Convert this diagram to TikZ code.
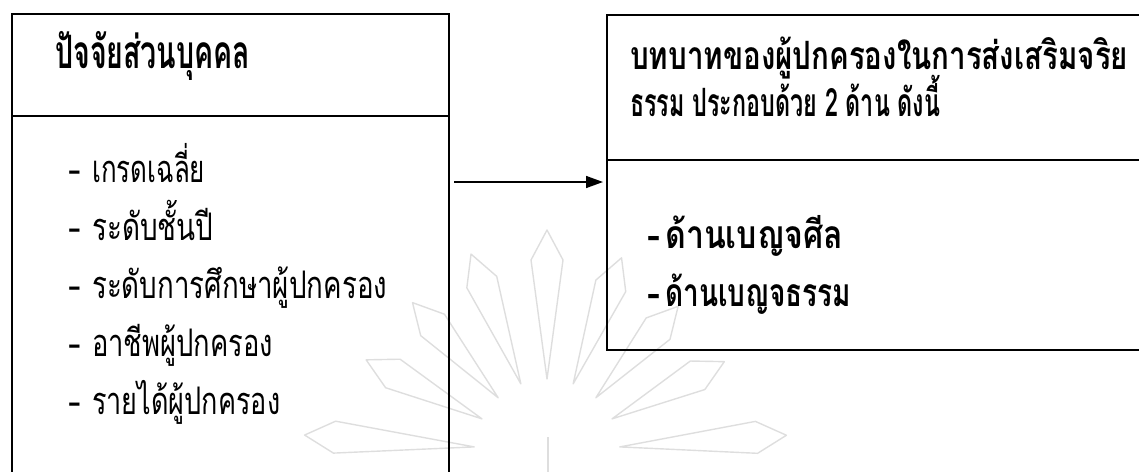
\documentclass[tikz,border=0pt]{standalone}
\usepackage{fontspec}
\usepackage{graphicx}
\usetikzlibrary{arrows.meta}
\newfontfamily\thai[Script=Thai]{Loma}
\definecolor{wmgray}{RGB}{222,222,222}
\newcommand{\fitw}[2]{\resizebox{#1}{\height}{#2}}
\begin{document}
\begin{tikzpicture}[x=1pt,y=-1pt,
  frame/.style={draw=black, line width=2.2pt, inner sep=0pt, outer sep=0pt},
  rule/.style={draw=black, line width=2pt},
  arr/.style={draw=black, line width=1.5pt, -{Triangle[length=17pt,width=12pt]}},
  wmline/.style={draw=wmgray, line width=1.4pt, line join=round},
  lhdr/.style={anchor=base west, inner sep=0pt, font=\thai\bfseries\fontsize{46}{50}\selectfont},
  litem/.style={anchor=base west, inner sep=0pt, font=\thai\fontsize{38}{42}\selectfont},
  rhdr/.style={anchor=base west, inner sep=0pt, font=\thai\bfseries\fontsize{39}{43}\selectfont},
  ritem/.style={anchor=base west, inner sep=0pt, font=\thai\bfseries\fontsize{39}{43}\selectfont}]
\useasboundingbox (0,0) rectangle (1139,471);
% watermark emblem
\begin{scope}[shift={(547,452)}]
  \foreach \a/\R in {90/222, 69/208, 48/196, 27/199, 4/240, 111/212, 132/201, 153/203, 176/243}
    \draw[wmline, rotate=\a] (73,0) -- (\R-30,16) -- (\R,0) -- (\R-30,-16) -- cycle;
\end{scope}
\coordinate (wmA) at (548,437);
\coordinate (wmB) at (548,475);
\draw[wmline] (wmA) -- (wmB);
% boxes
\node[frame, anchor=north west, minimum width=437pt, minimum height=470pt] (lbox) at (12,14) {};
\node[frame, anchor=north west, minimum width=560pt, minimum height=335pt] (rbox) at (607,15) {};
\coordinate (ldiv) at (0,116);
\coordinate (rdiv) at (0,160);
\coordinate (ay) at (0,182);
\draw[rule] (lbox.west |- ldiv) -- (lbox.east |- ldiv);
\draw[rule] (rbox.west |- rdiv) -- (rbox.east |- rdiv);
\draw[arr, shorten <=5pt, shorten >=4pt] (lbox.east |- ay) -- (rbox.west |- ay);
% left texts
\node[lhdr] (lh) at (55,68) {\fitw{195pt}{ปัจจัยส่วนบุคคล}};
\node[litem] (l1) at (68,182) {\makebox[24pt][l]{-}\fitw{113pt}{เกรดเฉลี่ย}};
\node[litem] (l2) at (68,240) {\makebox[24pt][l]{-}\fitw{121pt}{ระดับชั้นปี}};
\node[litem] (l3) at (68,298) {\makebox[24pt][l]{-}\fitw{295pt}{ระดับการศึกษาผู้ปกครอง}};
\node[litem] (l4) at (68,356) {\makebox[24pt][l]{-}\fitw{181pt}{อาชีพผู้ปกครอง}};
\node[litem] (l5) at (68,414) {\makebox[24pt][l]{-}\fitw{188pt}{รายได้ผู้ปกครอง}};
% right texts
\node[rhdr] (rh1) at (630,69) {\fitw{498pt}{บทบาทของผู้ปกครองในการส่งเสริมจริย}};
\node[rhdr] (rh2) at (630,116) {\fitw{310pt}{ธรรม ประกอบด้วย 2 ด้าน ดังนี้}};
\node[ritem] (r1) at (647,248) {\makebox[18pt][l]{-}\fitw{178pt}{ด้านเบญจศีล}};
\node[ritem] (r2) at (647,306) {\makebox[18pt][l]{-}\fitw{186pt}{ด้านเบญจธรรม}};
\end{tikzpicture}
\end{document}
